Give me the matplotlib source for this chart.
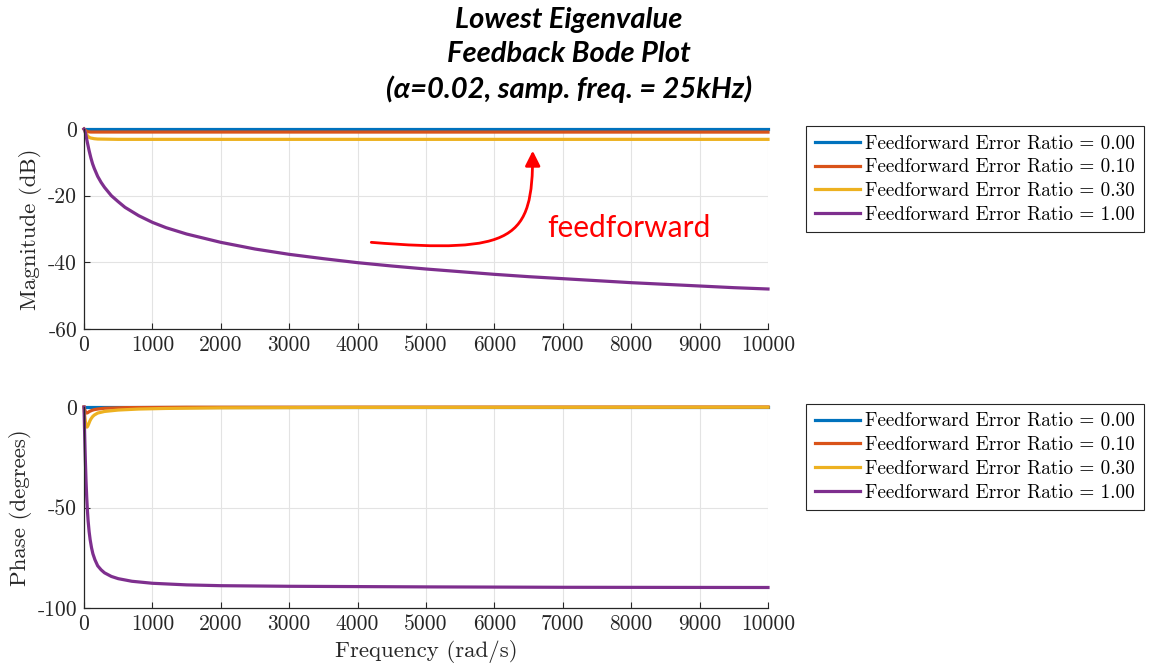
import numpy as np
import matplotlib.pyplot as plt
from matplotlib.path import Path
from matplotlib.patches import FancyArrowPatch

# values
ratios = ["0.00", "0.10", "0.30", "1.00"]
colors = ["#0072BD", "#D95319", "#EDB120", "#7E2F8E"]

# magnitude (dB)
mag_w0 = [0, 10000]
mag_0 = [0, 0]
mag_w1 = [0, 10, 25, 50, 100, 10000]
mag_1 = [0, -0.2, -0.5, -0.8, -0.9, -0.92]
mag_w3 = [0, 10, 25, 50, 75, 100, 150, 200, 500, 10000]
mag_3 = [0, -0.3, -1.2, -2.0, -2.5, -2.7, -2.9, -3.0, -3.1, -3.1]
mag_w10 = [0, 10, 25, 50, 75, 100, 125, 150, 200, 250, 300, 400, 500, 600,
           800, 1000, 1200, 1500, 2000, 2500, 3000, 3500, 4000, 4500, 5000,
           5500, 6000, 6500, 7000, 7500, 8000, 8500, 9000, 9500, 10000]
mag_10 = [0, -0.3, -1.5, -4.1, -6.5, -8.6, -10.4, -11.8, -14.2, -16.0, -17.5,
          -20.0, -21.8, -23.5, -26.0, -28.0, -29.6, -31.5, -34.0, -36.0, -37.6,
          -38.9, -40.1, -41.1, -42.0, -42.8, -43.6, -44.3, -44.9, -45.5, -46.1,
          -46.6, -47.1, -47.6, -48.0]

# phase (degrees)
ph_w0 = [0, 10000]
ph_0 = [0, 0]
ph_w1 = [0, 10, 20, 35, 50, 80, 120, 150, 200, 300, 600, 1500, 10000]
ph_1 = [0, -1.2, -2.2, -3.0, -2.9, -2.2, -1.6, -1.3, -1.0, -0.6, -0.3, -0.1, 0]
ph_w3 = [0, 10, 20, 30, 44, 55, 70, 85, 100, 125, 150, 200, 300, 500, 800,
         1200, 2000, 4000, 10000]
ph_3 = [0, -4, -7, -9, -10, -9.5, -8.3, -7, -6, -4.8, -4, -3, -2.2, -1.5, -1.0,
        -0.7, -0.4, -0.2, -0.1]
ph_w10 = [0, 5, 10, 15, 20, 30, 40, 50, 60, 75, 90, 110, 130, 160, 200, 250,
          300, 400, 500, 700, 1000, 1500, 2000, 3000, 5000, 7000, 10000]
ph_10 = [0, -7, -14, -20.5, -26.5, -37, -45, -51.5, -56.5, -62, -66, -70, -73,
         -76, -79, -81, -82.5, -84.3, -85.4, -86.7, -87.7, -88.5, -88.9, -89.2,
         -89.5, -89.7, -89.8]

mags = [(mag_w0, mag_0), (mag_w1, mag_1), (mag_w3, mag_3), (mag_w10, mag_10)]
phases = [(ph_w0, ph_0), (ph_w1, ph_1), (ph_w3, ph_3), (ph_w10, ph_10)]

xticks = list(range(0, 10001, 1000))

plt.rcParams["font.family"] = ["cmr10", "DejaVu Serif"]
plt.rcParams["axes.unicode_minus"] = False
plt.rcParams["axes.formatter.use_mathtext"] = True

fig = plt.figure(figsize=(11.49, 6.71), dpi=100)
ax1 = fig.add_axes([0.0731, 0.5097, 0.5953, 0.2980])
ax2 = fig.add_axes([0.0731, 0.0939, 0.5953, 0.2995])


def style(ax, ylim, yticks, ylabel):
    ax.set_xlim(0, 10000)
    ax.set_ylim(*ylim)
    ax.set_xticks(xticks)
    ax.set_xticklabels([str(t) for t in xticks])
    ax.set_yticks(yticks)
    ax.set_yticklabels([str(t) for t in yticks])
    ax.grid(True, color="#e3e3e3", linewidth=0.8)
    ax.set_axisbelow(True)
    for s in ["top", "right"]:
        ax.spines[s].set_visible(False)
    for s in ["left", "bottom"]:
        ax.spines[s].set_color("#262626")
        ax.spines[s].set_linewidth(0.9)
    ax.tick_params(direction="in", length=4, colors="#262626", labelsize=15.5,
                   pad=5)
    ax.set_ylabel(ylabel, fontsize=16.5, color="#262626")


for (w, m), c, r in zip(mags, colors, ratios):
    ax1.plot(w, m, color=c, lw=2.3, label=f"Feedforward Error Ratio = {r}",
             clip_on=False, solid_joinstyle="round")
for (w, p), c, r in zip(phases, colors, ratios):
    ax2.plot(w, p, color=c, lw=2.3, label=f"Feedforward Error Ratio = {r}",
             clip_on=False, solid_joinstyle="round")

style(ax1, (-60, 0), [-60, -40, -20, 0], "Magnitude (dB)")
style(ax2, (-100, 0), [-100, -50, 0], "Phase (degrees)")
ax2.set_xlabel("Frequency (rad/s)", fontsize=16.5, color="#262626")

for ax, top in [(ax1, 0.812), (ax2, 0.398)]:
    leg = ax.legend(loc="upper left", bbox_to_anchor=(0.7015, top),
                    bbox_transform=fig.transFigure, fontsize=13.8,
                    fancybox=False, edgecolor="#262626", framealpha=1,
                    handlelength=2.35, handletextpad=0.3, borderpad=0.45,
                    labelspacing=0.3, borderaxespad=0)
    leg.get_frame().set_linewidth(0.8)

# title
fig.text(0.495, 0.99, "Lowest Eigenvalue\nFeedback Bode Plot\n(\u03b1=0.02, samp. freq. = 25kHz)",
         ha="center", va="top", fontsize=21, fontweight="bold", style="italic",
         family=["Lato", "DejaVu Sans"], linespacing=1.38)

# red curved arrow annotation
verts = [(4200, -34), (6300, -37.5), (6560, -33), (6560, -6.5)]
codes = [Path.MOVETO, Path.CURVE4, Path.CURVE4, Path.CURVE4]
arrow = FancyArrowPatch(path=Path(verts, codes),
                        arrowstyle="-|>,head_length=9,head_width=4.5",
                        color="red", lw=2)
ax1.add_patch(arrow)
ax1.text(6770, -29.7, "feedforward", color="red", fontsize=21.5,
         family=["Lato", "DejaVu Sans"], ha="left", va="center")

fig.savefig("out.png", dpi=100)
